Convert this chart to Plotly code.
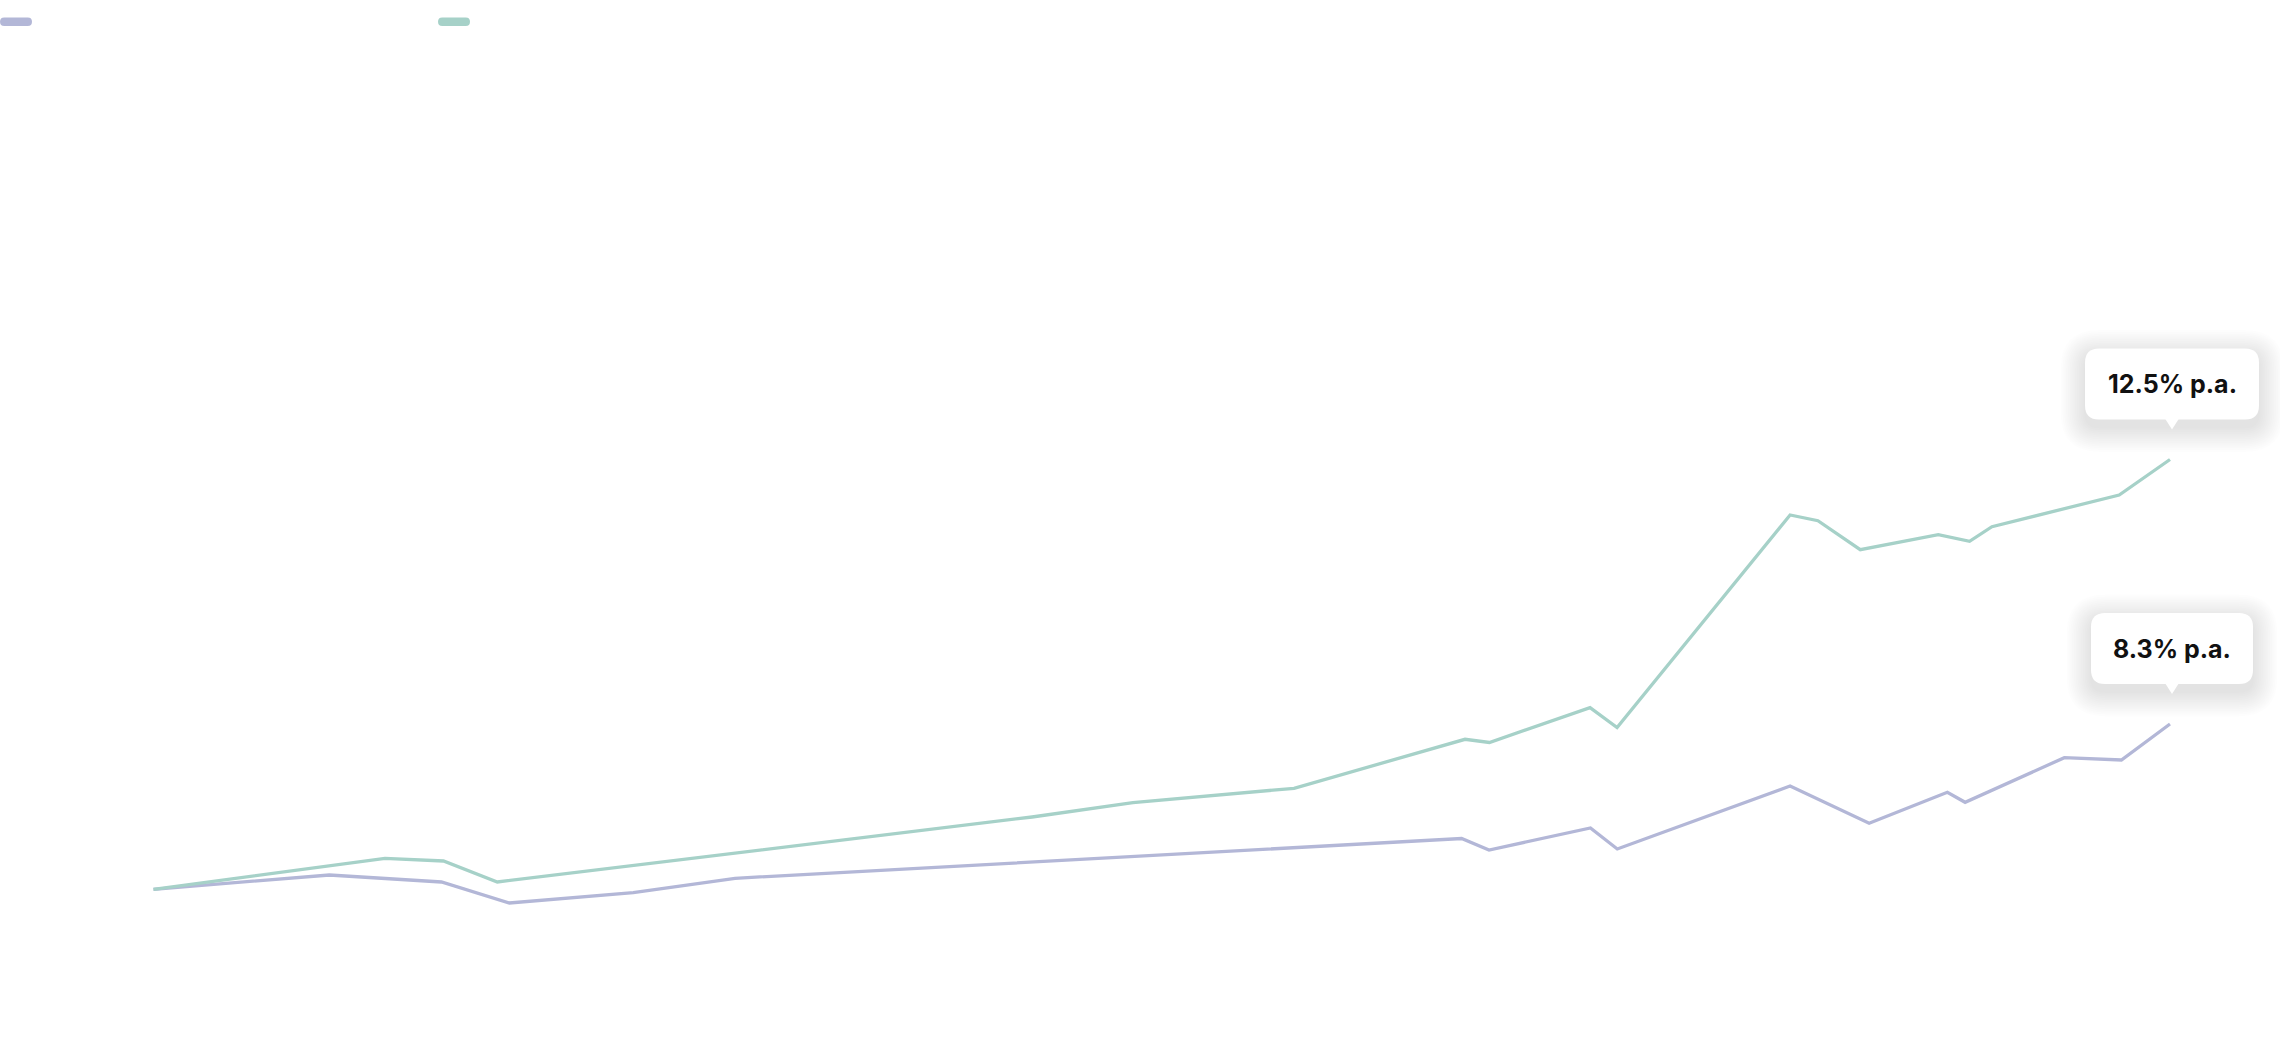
import plotly.graph_objects as go

# ---- data (decimal years, index value) ----
teal_x = [2014.000, 2015.148, 2015.438, 2015.705, 2018.357, 2018.857, 2019.656,
          2020.504, 2020.625, 2021.124, 2021.258, 2022.116, 2022.254, 2022.464,
          2022.851, 2023.006, 2023.117, 2023.748, 2024.000]
teal_y = [10000, 11550, 11415, 10365, 13615, 14330, 15050, 17500, 17340, 19080,
          18090, 28715, 28430, 26980, 27730, 27400, 28130, 29715, 31490]

purple_x = [2014.000, 2014.872, 2015.428, 2015.765, 2016.379, 2016.884, 2020.487,
            2020.623, 2021.126, 2021.259, 2022.116, 2022.508, 2022.896, 2022.984,
            2023.476, 2023.759, 2024.000]
purple_y = [10000, 10715, 10365, 9315, 9830, 10550, 12540, 11965, 13065, 12015,
            15165, 13300, 14850, 14350, 16580, 16465, 18265]

labels = ["12.5% p.a.", "8.3% p.a."]

TEAL = "#a6d1c8"
PURPLE = "#b3b7d7"

fig = go.Figure()
fig.add_trace(go.Scatter(x=purple_x, y=purple_y, mode="lines", name="",
                         line=dict(color=PURPLE, width=3.3), hoverinfo="skip"))
fig.add_trace(go.Scatter(x=teal_x, y=teal_y, mode="lines", name="",
                         line=dict(color=TEAL, width=3.3), hoverinfo="skip"))


def rrect(x0, y0, x1, y1, r):
    return (f"M {x0+r},{y0} L {x1-r},{y0} Q {x1},{y0} {x1},{y0+r} "
            f"L {x1},{y1-r} Q {x1},{y1} {x1-r},{y1} L {x0+r},{y1} "
            f"Q {x0},{y1} {x0},{y1-r} L {x0},{y0+r} Q {x0},{y0} {x0+r},{y0} Z")


shapes = []
annotations = []
for xs, ys, label, half_w in [(teal_x, teal_y, labels[0], 87),
                              (purple_x, purple_y, labels[1], 81)]:
    ax, ay = xs[-1], ys[-1]
    cx = 2
    bx0, bx1 = cx - half_w, cx + half_w
    by0, by1 = 40, 111  # pixels above point (positive = up)
    # soft shadow layers
    n = 14
    for i in range(n):
        g = 1 + i * 1.8
        shapes.append(dict(type="path", xref="x", yref="y", xsizemode="pixel",
                           ysizemode="pixel", xanchor=ax, yanchor=ay,
                           path=rrect(bx0 - g, by0 - 8 - g, bx1 + g, by1 - 6 + g, 14 + g),
                           fillcolor="rgba(0,0,0,0.0065)", line=dict(width=0),
                           layer="above"))
    shapes.append(dict(type="path", xref="x", yref="y", xsizemode="pixel",
                       ysizemode="pixel", xanchor=ax, yanchor=ay,
                       path=rrect(bx0, by0, bx1, by1, 14),
                       fillcolor="white", line=dict(width=0), layer="above"))
    shapes.append(dict(type="path", xref="x", yref="y", xsizemode="pixel",
                       ysizemode="pixel", xanchor=ax, yanchor=ay,
                       path=f"M {cx-7},{by0+1} L {cx+7},{by0+1} L {cx},{by0-10} Z",
                       fillcolor="white", line=dict(width=0), layer="above"))
    annotations.append(dict(x=ax, y=ay, xref="x", yref="y", text=label,
                            showarrow=False, xshift=cx, yshift=75.5,
                            font=dict(family="Inter", size=25, color="#111111",
                                      weight=700)))

# legend pills (top-left)
for px, col in [(0, PURPLE), (438, TEAL)]:
    shapes.append(dict(type="path", xref="paper", yref="paper", xsizemode="pixel",
                       ysizemode="pixel", xanchor=0, yanchor=1,
                       path=rrect(px, -26, px + 32, -17.5, 4.25),
                       fillcolor=col, line=dict(width=0)))

fig.update_layout(
    width=2280, height=1060,
    margin=dict(l=0, r=0, t=0, b=0),
    paper_bgcolor="white", plot_bgcolor="white",
    showlegend=False,
    shapes=shapes, annotations=annotations,
    xaxis=dict(range=[2013.2388, 2024.5455], visible=False, fixedrange=True),
    yaxis=dict(range=[1465, 54465], visible=False, fixedrange=True),
)

fig.write_html("out.html", config={"displayModeBar": False})
